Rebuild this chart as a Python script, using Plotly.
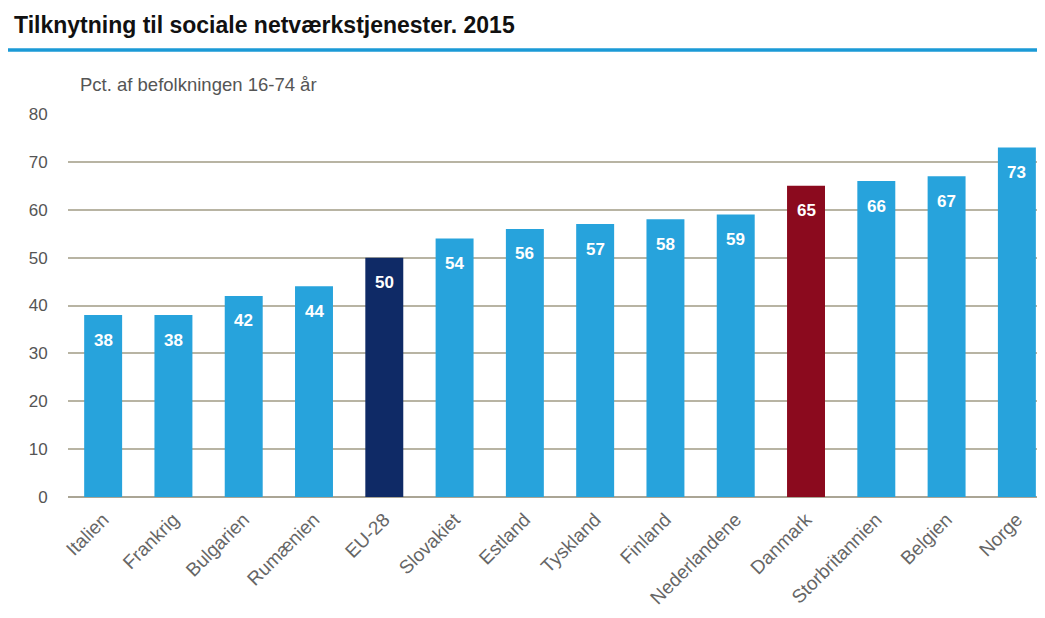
import plotly.graph_objects as go

categories = ["Italien", "Frankrig", "Bulgarien", "Rumænien", "EU-28", "Slovakiet", "Estland",
              "Tyskland", "Finland", "Nederlandene", "Danmark", "Storbritannien", "Belgien", "Norge"]
values = [38, 38, 42, 44, 50, 54, 56, 57, 58, 59, 65, 66, 67, 73]
y_ticks = [0, 10, 20, 30, 40, 50, 60, 70, 80]

LIGHT = "#27a3dc"
NAVY = "#0f2a66"
RED = "#8b0a1e"
colors = [NAVY if c == "EU-28" else RED if c == "Danmark" else LIGHT for c in categories]

FONT = "Liberation Sans, Arial, sans-serif"
xs = list(range(len(categories)))

fig = go.Figure()
fig.add_trace(go.Bar(
    x=xs, y=values,
    marker=dict(color=colors, line=dict(width=0)),
    width=0.54,
    hoverinfo="x+y",
))

for xi, v in zip(xs, values):
    fig.add_annotation(x=xi, y=v, xref="x", yref="y", text=f"<b>{v}</b>", showarrow=False,
                       yanchor="middle", yshift=-25,
                       font=dict(color="white", size=17, family=FONT))

PW, PH = 977, 383
L, T = 60, 106
fig.update_layout(
    width=1045, height=618,
    paper_bgcolor="white", plot_bgcolor="white",
    margin=dict(l=L, r=8, t=T, b=129),
    showlegend=False,
    font=dict(family=FONT, color="#555555"),
    bargap=0.46,
)
fig.update_xaxes(
    tickmode="array", tickvals=xs, ticktext=categories,
    tickangle=-45, tickfont=dict(size=19, color="#666666"),
    range=[-0.5, 13.4], showgrid=False, zeroline=False, showline=False,
    ticks="outside", ticklen=3, tickcolor="rgba(0,0,0,0)",
)
fig.update_yaxes(
    range=[0, 80], tickmode="array", tickvals=y_ticks,
    tickfont=dict(size=17, color="#555555"),
    showgrid=True, gridcolor="#b8b4a3", gridwidth=1.5,
    zeroline=True, zerolinecolor="#aaa595", zerolinewidth=2,
    ticks="outside", ticklen=16, tickcolor="rgba(0,0,0,0)",
)

# title, underline, axis caption
fig.add_annotation(xref="paper", yref="paper", x=(4 - L) / PW, y=1 + (T - 17) / PH,
                   xanchor="left", yanchor="middle", showarrow=False,
                   text="<b>Tilknytning til sociale netværkstjenester. 2015</b>",
                   font=dict(size=23, color="#111111", family=FONT))
fig.add_shape(type="line", xref="paper", yref="paper",
              x0=(0 - L) / PW, x1=1, y0=1 + (T - 42) / PH, y1=1 + (T - 42) / PH,
              line=dict(color="#1b9ad6", width=3.5))
fig.add_annotation(xref="paper", yref="paper", x=(70 - L) / PW, y=1 + (T - 77) / PH,
                   xanchor="left", yanchor="middle", showarrow=False,
                   text="Pct. af befolkningen 16-74 år",
                   font=dict(size=18.5, color="#555555", family=FONT))

fig.write_html("out.html")
